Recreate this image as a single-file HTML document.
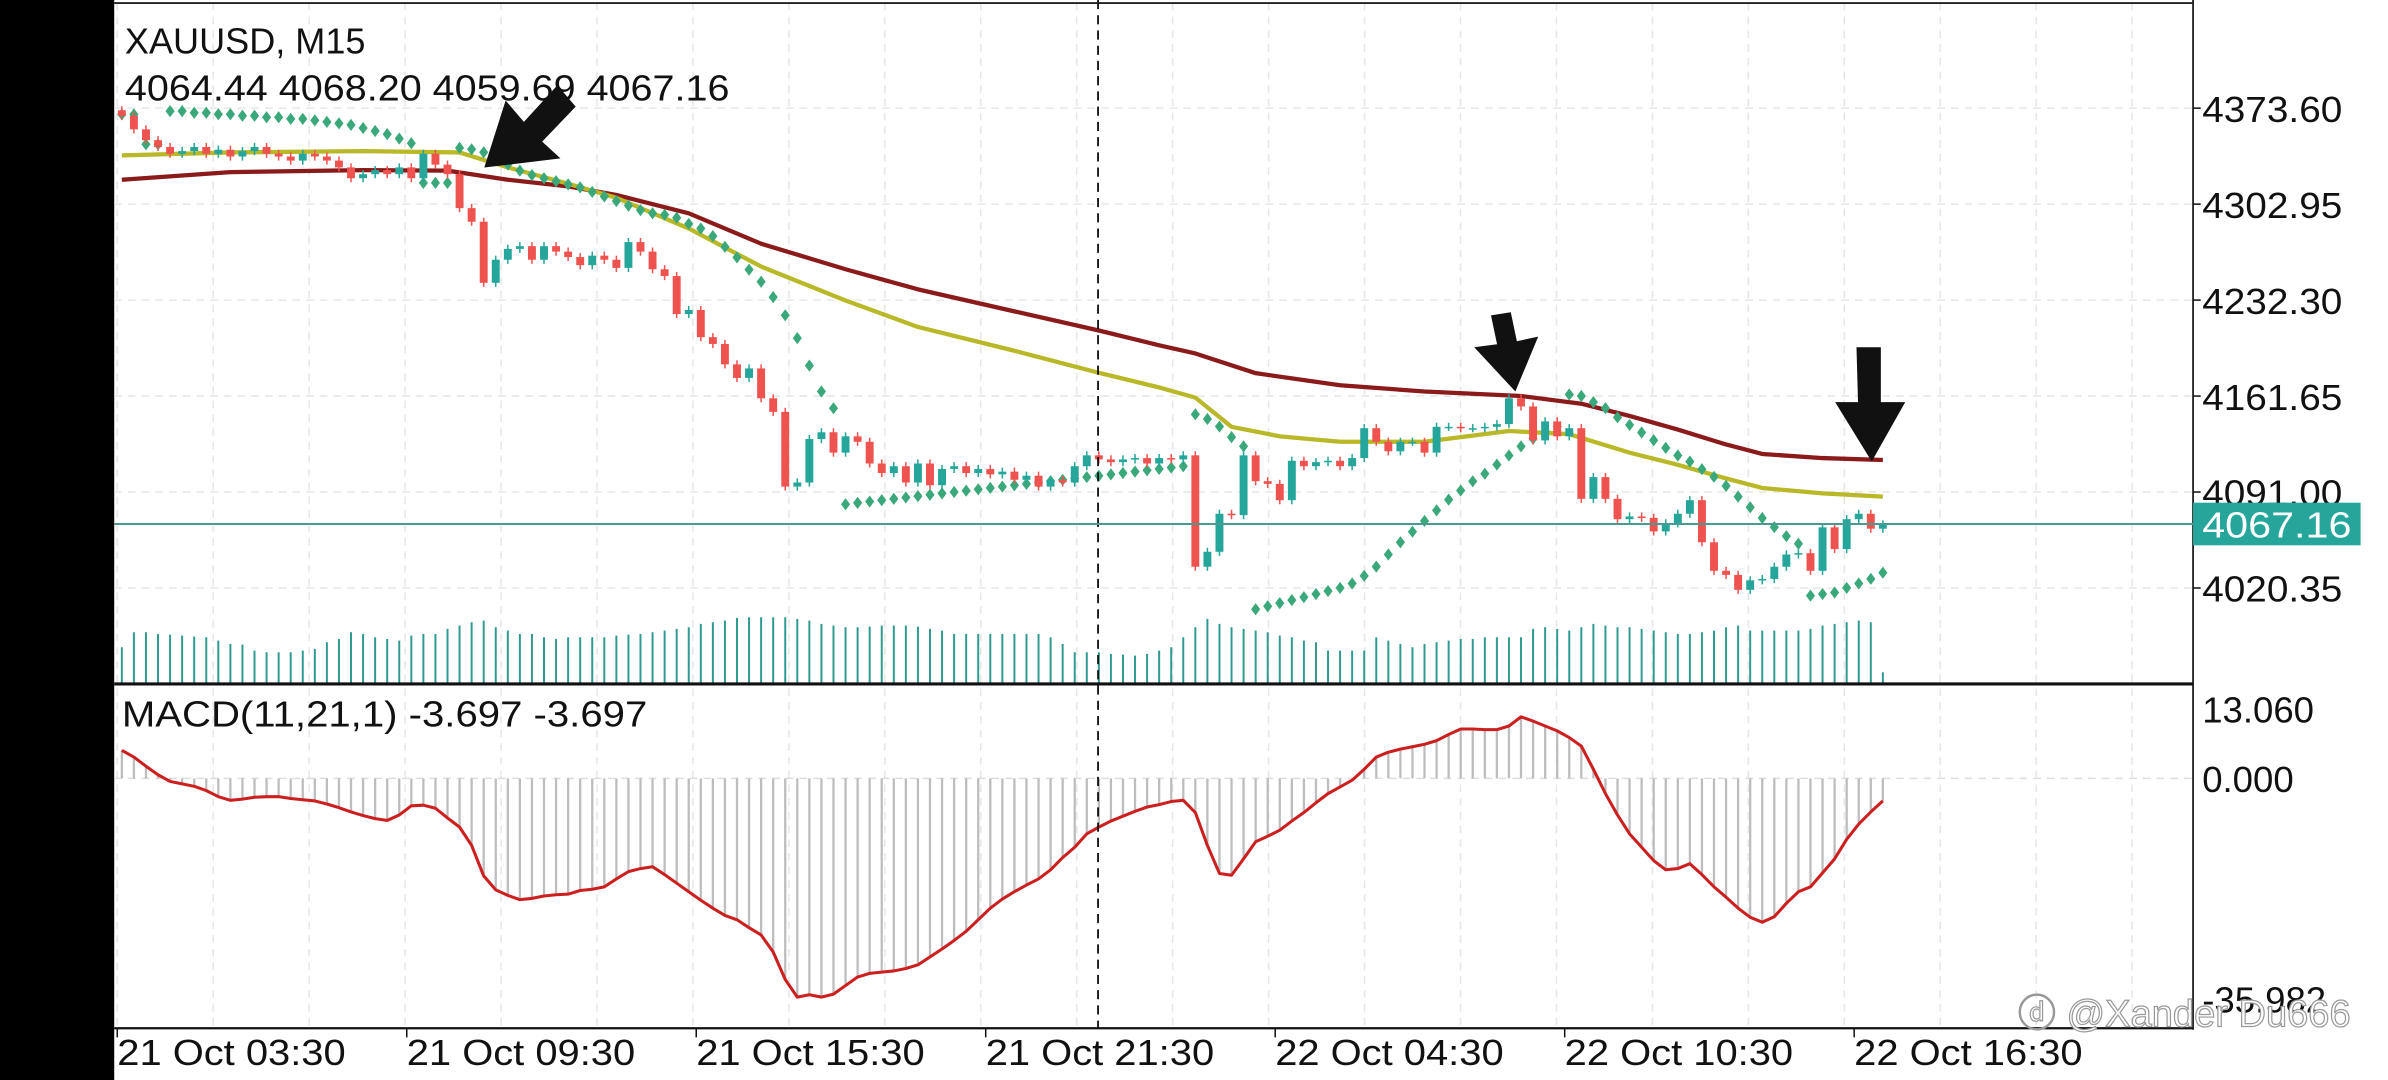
<!DOCTYPE html>
<html><head><meta charset="utf-8"><style>
html,body{margin:0;padding:0;background:#fff;}
svg{display:block;}
text{font-family:"Liberation Sans",sans-serif;}
</style></head><body>
<svg id="chart" width="2388" height="1080" viewBox="0 0 1568 709" preserveAspectRatio="none" xmlns="http://www.w3.org/2000/svg">
<rect x="0" y="0" width="1568" height="709" fill="#fff"/>
<rect x="0" y="0" width="75" height="709" fill="#000"/>
<g id="grid"></g>
<g id="vol"></g>
<g id="hist"></g>
<g id="lines"></g>
<g id="sar"></g>
<g id="candles"></g>
<g id="frame">
<line x1="75" y1="2" x2="1440" y2="2" stroke="#222" stroke-width="1.2"/>
<line x1="1440" y1="0" x2="1440" y2="676" stroke="#222" stroke-width="1.2"/>
<line x1="75" y1="449" x2="1440" y2="449" stroke="#111" stroke-width="2"/>
<line x1="75" y1="675" x2="1440" y2="675" stroke="#111" stroke-width="1.5"/>
<line x1="721" y1="0" x2="721" y2="675" stroke="#111" stroke-width="1.2" stroke-dasharray="6,4"/>
</g>
<g id="axis"></g>
<line x1="75" y1="344" x2="1440" y2="344" stroke="#4a9a94" stroke-width="1.3"/>
<rect x="1440" y="330" width="110" height="28" fill="#26a69a"/>
<text x="1446" y="353" font-size="24" fill="#fff" textLength="98" lengthAdjust="spacingAndGlyphs">4067.16</text>
<text x="82" y="35" font-size="24" fill="#111" textLength="158" lengthAdjust="spacingAndGlyphs">XAUUSD, M15</text>
<text x="82" y="66" font-size="24" fill="#111" textLength="397" lengthAdjust="spacingAndGlyphs">4064.44 4068.20 4059.69 4067.16</text>
<text x="80" y="477" font-size="24" fill="#111" textLength="345" lengthAdjust="spacingAndGlyphs">MACD(11,21,1) -3.697 -3.697</text>
<g fill="#111">
<polygon points="318,110 332,66 344,80 366,56 378,70 356,93 368,104"/>
<polygon points="995,257 968,228 983,226 979,207 992,205 996,224 1010,221"/>
<polygon points="1229,303 1205,264 1220,264 1219,228 1235,228 1235,264 1251,264"/>
</g>
<text x="1325" y="674" font-size="25" fill="#fff" stroke="#999" stroke-width="0.8">ⓓ @Xander Du666</text>
<script>
const closes=[4368,4358,4350,4345,4340,4342,4345,4340,4343,4338,4342,4345,4340,4338,4335,4340,4338,4335,4330,4322,4325,4328,4325,4330,4322,4340,4332,4325,4300,4290,4245,4262,4270,4272,4262,4272,4268,4264,4258,4265,4262,4256,4275,4268,4255,4250,4222,4225,4205,4200,4185,4175,4182,4160,4150,4095,4098,4130,4135,4120,4132,4128,4112,4105,4110,4098,4112,4096,4108,4110,4105,4108,4104,4106,4100,4103,4095,4100,4098,4110,4118,4115,4113,4115,4116,4112,4116,4115,4118,
4036,4047,4075,4074,4118,4099,4097,4085,4114,4110,4113,4114,4110,4116,4138,4128,4121,4128,4128,4120,4139,4139,4138,4138,4139,4141,4160,4154,4129,4143,4132,4138,4086,4102,4086,4071,4073,4072,4062,4068,4075,4085,4054,4033,4030,4019,4026,4027,4036,4045,4046,4033,4065,4049,4071,4075,4064,4067.16];
const firstOpen=4372;
const volumes=[110,155,155,150,148,145,142,140,130,120,118,100,95,95,95,100,105,125,135,155,150,140,135,130,145,150,150,165,175,185,190,170,160,150,150,140,135,140,140,140,140,145,148,150,155,160,165,170,180,185,190,198,200,200,200,200,195,190,180,175,170,170,172,175,175,175,172,165,160,150,150,150,150,150,150,150,150,140,120,95,95,95,90,88,85,90,100,110,140,170,195,180,170,165,160,155,145,140,130,125,100,100,100,100,140,130,120,110,120,125,130,135,135,140,140,140,140,165,170,165,160,170,180,175,170,170,165,160,155,150,150,155,160,170,175,160,160,160,160,160,165,175,180,185,190,185,35];
const macd=[4.6,3.5,2,0.6,-0.5,-0.9,-1.3,-2,-3,-3.6,-3.4,-3.1,-3.0,-3.0,-3.3,-3.5,-3.7,-4.2,-4.8,-5.5,-6.1,-6.6,-6.9,-6,-4.5,-4.4,-4.9,-6.5,-8,-11,-16,-18.3,-19.2,-19.9,-19.7,-19.3,-19.1,-19,-18.4,-18.2,-17.8,-16.5,-15.3,-14.8,-14.5,-15.8,-17.2,-18.6,-20,-21.3,-22.5,-23.2,-24.5,-25.7,-28.5,-33,-35.9,-35.5,-35.9,-35.4,-34,-32.6,-32,-31.8,-31.6,-31.2,-30.6,-29.3,-28,-26.6,-25.1,-23.2,-21.3,-19.8,-18.6,-17.5,-16.5,-15,-13,-11.3,-9.1,-8,-7,-6.2,-5.4,-4.7,-4.3,-3.8,-3.6,-5.6,-11,-15.6,-15.9,-13.2,-10.4,-9.5,-8.5,-7,-5.6,-4,-2.5,-1.4,-0.3,1.5,3.5,4.3,4.8,5.2,5.6,6.2,7.2,8.1,8.1,8.0,8.0,8.6,10.1,9.4,8.6,7.8,6.7,5.3,1.5,-2.5,-6,-9.1,-11.3,-13.5,-15,-14.8,-14,-15.8,-17.8,-19.5,-21.3,-22.8,-23.6,-22.7,-20.5,-18.6,-17.8,-15.5,-13.2,-10,-7.5,-5.5,-3.697];
const sarValues=[4369,4369,4347,4347,4371.4,4371.4,4370.2,4370.2,4369.1,4369.1,4368,4368,4366.9,4366.9,4365.7,4365.7,4364.6,4363.5,4362.4,4361.3,4359,4356.8,4354.5,4351.2,4347.8,4318.6,4318.6,4318.6,4344.4,4343.3,4341.1,4337.7,4332.1,4327.6,4324.3,4322,4319.8,4317.5,4315.3,4311.9,4308.6,4305.2,4301.8,4298.5,4296.2,4295.1,4292.9,4288.4,4285,4279.4,4271.5,4263.7,4254.7,4245.8,4234.5,4221.1,4204.3,4184.1,4165,4152.7,
4082,4083,4084,4085,4086,4087,4088,4089,4090,4091,4092,4093,4094,4095,4096,4097,4098,4099,4100,4101,4102,4103,4104,4105,4106,4107,4108,4109,4110,
4148.2,4144.8,4139.2,4131.4,4124.6,
4004.7,4006.9,4009.2,4011.4,4013.6,4015.9,4018.1,4020.4,4023.7,4029.3,4036.1,4045.0,4054.0,4061.8,4069.7,4077.5,4085.4,4092.1,4098.9,4104.5,4111.2,4117.9,4124.6,4130.3,4135.9,4139.2,
4162.8,4161.7,4157.2,4152.7,4146,4140.4,4134.8,4129.1,4123.5,4117.9,4113.4,4107.8,4102.2,4095.5,4087.6,4079.8,4071.9,4065.2,4058.5,4052.9,
4014.7,4015.9,4017,4020.4,4023.7,4027.1,4031.6];
const emaFastIdx=[0,9,20,28,32,37,41,47,53,60,66,74,81,86,89,92,96,101,108,115,120,125,129,133,136,141,146];
const emaFastVals=[4338.8,4341,4342,4341,4330,4318,4307.6,4285,4257,4232,4212.5,4195,4178.8,4168,4160.5,4139,4132,4128,4128,4135.9,4133.6,4120,4111,4101,4094,4090,4087.6];
const emaSlowIdx=[0,9,20,27,32,37,41,47,53,60,66,74,81,86,89,94,101,108,116,121,125,129,133,136,141,146];
const emaSlowVals=[4320.9,4326.5,4328,4327.6,4320.9,4316,4309.7,4296.2,4273.8,4255,4240.2,4224,4209.9,4199,4193,4178.5,4169.6,4165,4161.7,4156,4147,4137,4126,4119,4116,4114.6];
const priceTicks=[4373.60,4302.95,4232.30,4161.65,4091.00,4020.35];
const macdTicks=["13.060","0.000","-35.982"];
const macdTickVals=[13.06,0,-35.982];
const timeLabels=["21 Oct 03:30","21 Oct 09:30","21 Oct 15:30","21 Oct 21:30","22 Oct 04:30","22 Oct 10:30","22 Oct 16:30"];
const timeLabelBars=[0,24,48,72,96,120,144];

const NS="http://www.w3.org/2000/svg";
const xOf=i=>80+7.92*i;
const yP=p=>71+(4373.6-p)/1.1214;
const yM=v=>511-v*4;
const yMl=v=>v>=0?511-v*3.5:511-v*4.02;
function mk(tag,attrs,parent){const e=document.createElementNS(NS,tag);for(const k in attrs)e.setAttribute(k,attrs[k]);parent.appendChild(e);return e;}
const G=id=>document.getElementById(id);

for(let x=77;x<1440;x+=63){const l=mk('line',{x1:x,y1:2,x2:x,y2:675,stroke:'#e6e6e6','stroke-width':1,'stroke-dasharray':'5,4'},G('grid'));

}
priceTicks.forEach(p=>{const l=mk('line',{x1:75,y1:yP(p),x2:1440,y2:yP(p),stroke:'#e6e6e6','stroke-width':1,'stroke-dasharray':'5,4'},G('grid'));

});
{const l=mk('line',{x1:75,y1:yM(0),x2:1440,y2:yM(0),stroke:'#ddd','stroke-width':1,'stroke-dasharray':'5,4'},G('grid'));

}

volumes.forEach((v,i)=>{const h=v*0.219;const l=mk('line',{x1:xOf(i),y1:449,x2:xOf(i),y2:449-h,stroke:'#2f9a90','stroke-width':1.3},G('vol'));

});

macd.forEach((v,i)=>{const l=mk('line',{x1:xOf(i),y1:yM(0),x2:xOf(i),y2:yM(v),stroke:'#bdbdbd','stroke-width':1.5},G('hist'));

});
{const pl=mk('polyline',{points:macd.map((v,i)=>xOf(i)+','+yM(v)).join(' '),fill:'none',stroke:'#cc1f1f','stroke-width':2,'stroke-linejoin':'round'},G('hist'));

}

{const pl=mk('polyline',{points:emaSlowIdx.map((b,k)=>xOf(b)+','+yP(emaSlowVals[k])).join(' '),fill:'none',stroke:'#8b1a1a','stroke-width':2.8,'stroke-linejoin':'round'},G('lines'));

}
{const pl=mk('polyline',{points:emaFastIdx.map((b,k)=>xOf(b)+','+yP(emaFastVals[k])).join(' '),fill:'none',stroke:'#b8b828','stroke-width':2.8,'stroke-linejoin':'round'},G('lines'));

}

sarValues.forEach((s,i)=>{const x=xOf(i),y=yP(s);const d=mk('polygon',{points:`${x},${y-4} ${x+3},${y} ${x},${y+4} ${x-3},${y}`,fill:'#3aa87a'},G('sar'));

});

closes.forEach((c,i)=>{const o=i===0?firstOpen:closes[i-1];const up=c>=o;const col=up?'#26a69a':'#ef5350';
const hi=Math.max(o,c)+3,lo=Math.min(o,c)-3;const x=xOf(i);
const w=mk('line',{x1:x,y1:yP(hi),x2:x,y2:yP(lo),stroke:col,'stroke-width':1},G('candles'));


const top=yP(Math.max(o,c)),bot=yP(Math.min(o,c));
const b=mk('rect',{x:x-2.6,y:top,width:5.2,height:Math.max(1,bot-top),fill:col},G('candles'));

});

priceTicks.forEach(p=>{const t=mk('text',{x:1446,y:yP(p)+9,'font-size':24,fill:'#111',textLength:92,lengthAdjust:'spacingAndGlyphs'},G('axis'));t.textContent=p.toFixed(2);


mk('line',{x1:1440,y1:yP(p),x2:1445,y2:yP(p),stroke:'#111'},G('axis'));});
macdTicks.forEach((s,k)=>{const t=mk('text',{x:1446,y:yMl(macdTickVals[k])+9,'font-size':24,fill:'#111'},G('axis'));t.textContent=s;

});
timeLabels.forEach((s,k)=>{const x=xOf(timeLabelBars[k])-3;const t=mk('text',{x:x,y:699,'font-size':24,fill:'#111',textLength:150,lengthAdjust:'spacingAndGlyphs'},G('axis'));t.textContent=s;


mk('line',{x1:x,y1:675,x2:x,y2:681,stroke:'#111'},G('axis'));});
</script>
</svg>
</body></html>
